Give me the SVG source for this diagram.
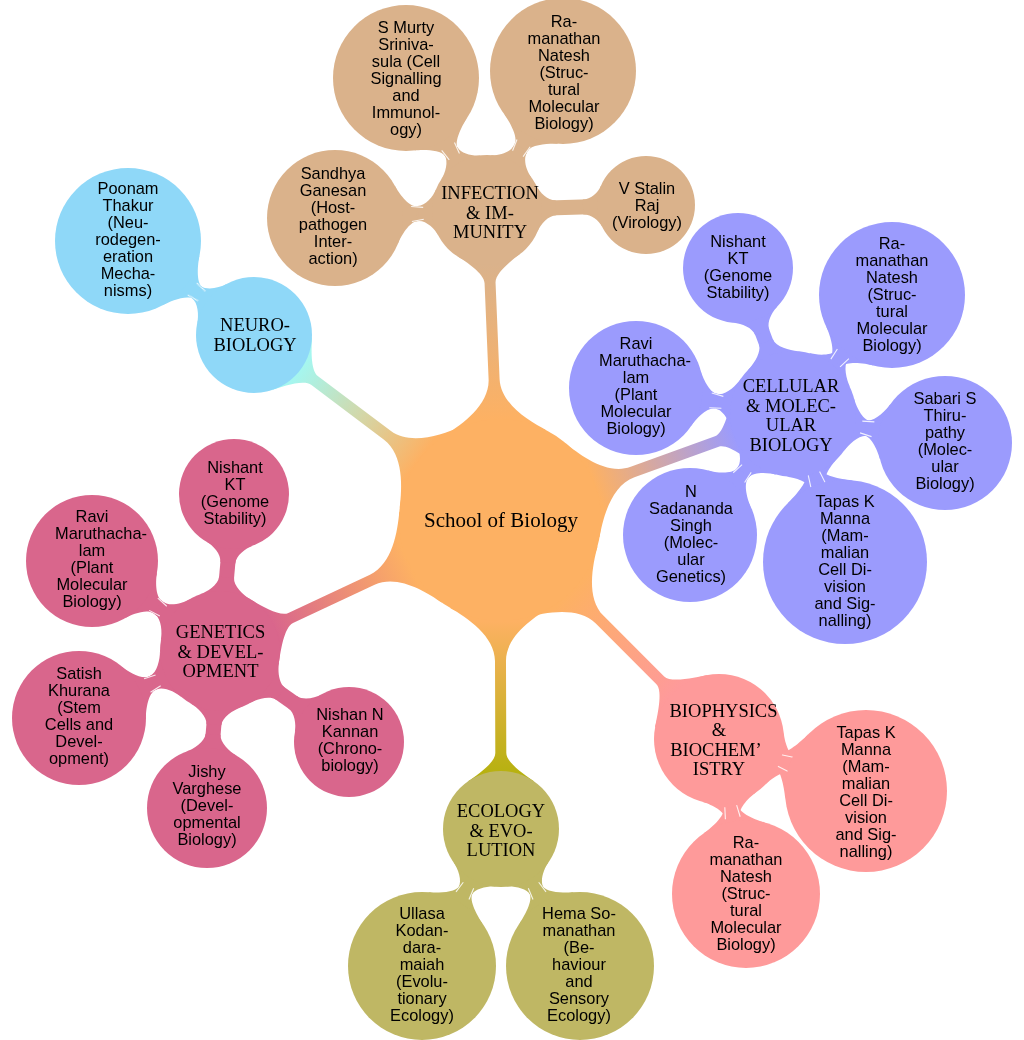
<svg xmlns="http://www.w3.org/2000/svg" width="1024" height="1040" viewBox="0 0 1024 1040">
<style>
.t0{font-family:"Liberation Serif","Times New Roman",serif;font-size:21px;text-anchor:middle;fill:#000}
.t1{font-family:"Liberation Serif","Times New Roman",serif;font-size:18.5px;text-anchor:middle;fill:#000}
.t2{font-family:"Liberation Sans",Arial,sans-serif;font-size:16.4px;text-anchor:middle;fill:#000}
.ctr{fill:#fdb163}.inf{fill:#dab28b}.neu{fill:#8fd8f8}.cel{fill:#9b9bfd}.bio{fill:#fe9a9a}.eco{fill:#bfb764}.gen{fill:#d9668c}
.b{stroke-width:15;fill:none}
.binf{stroke:#dab28b}.bneu{stroke:#8fd8f8}.bcel{stroke:#9b9bfd}.bbio{stroke:#fe9a9a}.beco{stroke:#bfb764}.bgen{stroke:#d9668c}
.sl{stroke:#fff;stroke-width:1.1;opacity:.85}
</style>
<defs>
<linearGradient id="gInf" gradientUnits="userSpaceOnUse" x1="101" y1="0" x2="255" y2="0"><stop offset="0" stop-color="#fdb163"/><stop offset="1" stop-color="#dab28b"/></linearGradient>
<linearGradient id="gNeu" gradientUnits="userSpaceOnUse" x1="101" y1="0" x2="250" y2="0"><stop offset="0" stop-color="#fdb163"/><stop offset="0.5" stop-color="#d2d8aa"/><stop offset="1" stop-color="#a5f6ef"/></linearGradient>
<linearGradient id="gCel" gradientUnits="userSpaceOnUse" x1="101" y1="0" x2="250" y2="0"><stop offset="0" stop-color="#fdb163"/><stop offset="1" stop-color="#9b9bfd"/></linearGradient>
<linearGradient id="gBio" gradientUnits="userSpaceOnUse" x1="101" y1="0" x2="245" y2="0"><stop offset="0" stop-color="#fdb163"/><stop offset="1" stop-color="#fe9a9a"/></linearGradient>
<linearGradient id="gEco" gradientUnits="userSpaceOnUse" x1="101" y1="0" x2="255" y2="0"><stop offset="0" stop-color="#fdb163"/><stop offset="1" stop-color="#b6b10f"/></linearGradient>
<linearGradient id="gGen" gradientUnits="userSpaceOnUse" x1="101" y1="0" x2="250" y2="0"><stop offset="0" stop-color="#fdb163"/><stop offset="1" stop-color="#d9668c"/></linearGradient>
<path id="f49" d="M44.4,-20.7 C47.8,-13.5 55,-7.5 63,-7.5 L63,7.5 C55,7.5 47.8,13.5 44.4,20.7Z"/>
<path id="f55" d="M49.8,-23.3 C53.2,-16.1 61,-7.5 69,-7.5 L69,7.5 C61,7.5 53.2,16.1 49.8,23.3Z"/>
<path id="f58" d="M52.5,-24.5 C55.9,-17.3 64,-7.5 72,-7.5 L72,7.5 C64,7.5 55.9,17.3 52.5,24.5Z"/>
<path id="f60" d="M54.4,-25.4 C57.8,-18.2 66,-7.5 74,-7.5 L74,7.5 C66,7.5 57.8,18.2 54.4,25.4Z"/>
<path id="f63" d="M57.1,-26.6 C60.5,-19.4 69,-7.5 77,-7.5 L77,7.5 C69,7.5 60.5,19.4 57.1,26.6Z"/>
<path id="f65" d="M58.9,-27.5 C62.3,-20.3 71,-7.5 79,-7.5 L79,7.5 C71,7.5 62.3,20.3 58.9,27.5Z"/>
<path id="f66" d="M59.8,-27.9 C63.2,-20.7 72,-7.5 80,-7.5 L80,7.5 C72,7.5 63.2,20.7 59.8,27.9Z"/>
<path id="f67" d="M60.7,-28.3 C64.1,-21.1 73,-7.5 81,-7.5 L81,7.5 C73,7.5 64.1,21.1 60.7,28.3Z"/>
<path id="f68" d="M61.6,-28.8 C65,-21.6 74,-7.5 82,-7.5 L82,7.5 C74,7.5 65,21.6 61.6,28.8Z"/>
<path id="f73" d="M66.1,-30.9 C69.5,-23.7 79,-7.5 87,-7.5 L87,7.5 C79,7.5 69.5,23.7 66.1,30.9Z"/>
<path id="f74" d="M67,-31.3 C70.4,-24.1 80,-7.5 88,-7.5 L88,7.5 C80,7.5 70.4,24.1 67,31.3Z"/>
<path id="f81" d="M73.4,-34.3 C76.8,-27.1 87,-7.5 95,-7.5 L95,7.5 C87,7.5 76.8,27.1 73.4,34.3Z"/>
<path id="f82" d="M74.3,-34.7 C77.7,-27.5 88,-7.5 96,-7.5 L96,7.5 C88,7.5 77.7,27.5 74.3,34.7Z"/>
</defs>
<rect width="1024" height="1040" fill="#fff"/>
<g id="connectors">
<path fill="url(#gInf)" transform="translate(500,520) rotate(-92.4)" d="M87.5,-50.5 C97.5,-33.2 116,-5.5 141,-5.5 L237.3,-5.5 C247.3,-5.5 259.6,-23.4 265.3,-31.6 L265.3,31.6 C259.6,23.4 247.3,5.5 237.3,5.5 L141,5.5 C116,5.5 97.5,33.2 87.5,50.5Z"/>
<path fill="url(#gNeu)" transform="translate(500,520) rotate(-143.05)" d="M87.5,-50.5 C97.5,-33.2 116,-5.5 141,-5.5 L231.8,-5.5 C241.8,-5.5 254.6,-25.1 260.3,-33.3 L260.3,33.3 C254.6,25.1 241.8,5.5 231.8,5.5 L141,5.5 C116,5.5 97.5,33.2 87.5,50.5Z"/>
<path fill="url(#gCel)" transform="translate(500,520) rotate(-19.89)" d="M87.5,-50.5 C97.5,-33.2 116,-5.5 141,-5.5 L230.6,-5.5 C240.6,-5.5 254.3,-28 260,-36.2 L260,36.2 C254.3,28 240.6,5.5 230.6,5.5 L141,5.5 C116,5.5 97.5,33.2 87.5,50.5Z"/>
<path fill="url(#gBio)" transform="translate(500,520) rotate(45)" d="M87.5,-50.5 C97.5,-33.2 116,-5.5 141,-5.5 L226.7,-5.5 C236.7,-5.5 250.8,-29.1 256.5,-37.3 L256.5,37.3 C250.8,29.1 236.7,5.5 226.7,5.5 L141,5.5 C116,5.5 97.5,33.2 87.5,50.5Z"/>
<path fill="url(#gEco)" transform="translate(500,520) rotate(89.8)" d="M87.5,-50.5 C97.5,-33.2 116,-5.5 141,-5.5 L233,-5.5 C243,-5.5 255.8,-25.1 261.5,-33.3 L261.5,33.3 C255.8,25.1 243,5.5 233,5.5 L141,5.5 C116,5.5 97.5,33.2 87.5,50.5Z"/>
<path fill="url(#gGen)" transform="translate(500,520) rotate(154.93)" d="M87.5,-50.5 C97.5,-33.2 116,-5.5 141,-5.5 L231.1,-5.5 C241.1,-5.5 254.3,-26.2 260,-34.4 L260,34.4 C254.3,26.2 241.1,5.5 231.1,5.5 L141,5.5 C116,5.5 97.5,33.2 87.5,50.5Z"/>
<line class="b binf" x1="487" y1="210" x2="335" y2="218"/>
<use href="#f55" class="inf" transform="translate(487,210) rotate(177)"/>
<use href="#f68" class="inf" transform="translate(335,218) rotate(-3)"/>
<line class="b binf" x1="487" y1="210" x2="406" y2="78"/>
<use href="#f55" class="inf" transform="translate(487,210) rotate(-121.5)"/>
<use href="#f73" class="inf" transform="translate(406,78) rotate(58.5)"/>
<line class="b binf" x1="487" y1="210" x2="563" y2="71"/>
<use href="#f55" class="inf" transform="translate(487,210) rotate(-61.3)"/>
<use href="#f73" class="inf" transform="translate(563,71) rotate(118.7)"/>
<line class="b binf" x1="487" y1="210" x2="646" y2="205"/>
<use href="#f55" class="inf" transform="translate(487,210) rotate(-1.8)"/>
<use href="#f49" class="inf" transform="translate(646,205) rotate(178.2)"/>
<line class="b bneu" x1="254" y1="335" x2="128" y2="241"/>
<use href="#f58" class="neu" transform="translate(254,335) rotate(-143.3)"/>
<use href="#f73" class="neu" transform="translate(128,241) rotate(36.7)"/>
<line class="b bcel" x1="793" y1="414" x2="738" y2="268"/>
<use href="#f63" class="cel" transform="translate(793,414) rotate(-110.6)"/>
<use href="#f55" class="cel" transform="translate(738,268) rotate(69.4)"/>
<line class="b bcel" x1="793" y1="414" x2="892" y2="295"/>
<use href="#f63" class="cel" transform="translate(793,414) rotate(-50.24)"/>
<use href="#f73" class="cel" transform="translate(892,295) rotate(129.76)"/>
<line class="b bcel" x1="793" y1="414" x2="945" y2="443"/>
<use href="#f63" class="cel" transform="translate(793,414) rotate(10.8)"/>
<use href="#f67" class="cel" transform="translate(945,443) rotate(190.8)"/>
<line class="b bcel" x1="793" y1="414" x2="845" y2="562"/>
<use href="#f63" class="cel" transform="translate(793,414) rotate(70.6)"/>
<use href="#f82" class="cel" transform="translate(845,562) rotate(250.6)"/>
<line class="b bcel" x1="793" y1="414" x2="690" y2="535"/>
<use href="#f63" class="cel" transform="translate(793,414) rotate(130.4)"/>
<use href="#f67" class="cel" transform="translate(690,535) rotate(310.4)"/>
<line class="b bcel" x1="793" y1="414" x2="636" y2="388"/>
<use href="#f63" class="cel" transform="translate(793,414) rotate(-170.6)"/>
<use href="#f67" class="cel" transform="translate(636,388) rotate(9.4)"/>
<line class="b bbio" x1="719" y1="739" x2="866" y2="791"/>
<use href="#f65" class="bio" transform="translate(719,739) rotate(19.48)"/>
<use href="#f81" class="bio" transform="translate(866,791) rotate(199.48)"/>
<line class="b bbio" x1="719" y1="739" x2="746" y2="894"/>
<use href="#f65" class="bio" transform="translate(719,739) rotate(80.1)"/>
<use href="#f74" class="bio" transform="translate(746,894) rotate(260.1)"/>
<line class="b beco" x1="501" y1="829" x2="422" y2="966"/>
<use href="#f58" class="eco" transform="translate(501,829) rotate(120)"/>
<use href="#f74" class="eco" transform="translate(422,966) rotate(300)"/>
<line class="b beco" x1="501" y1="829" x2="580" y2="966"/>
<use href="#f58" class="eco" transform="translate(501,829) rotate(60)"/>
<use href="#f74" class="eco" transform="translate(580,966) rotate(240)"/>
<line class="b bgen" x1="220" y1="651" x2="234" y2="494"/>
<use href="#f60" class="gen" transform="translate(220,651) rotate(-84.9)"/>
<use href="#f55" class="gen" transform="translate(234,494) rotate(95.1)"/>
<line class="b bgen" x1="220" y1="651" x2="92" y2="561"/>
<use href="#f60" class="gen" transform="translate(220,651) rotate(-144.9)"/>
<use href="#f66" class="gen" transform="translate(92,561) rotate(35.1)"/>
<line class="b bgen" x1="220" y1="651" x2="79" y2="718"/>
<use href="#f60" class="gen" transform="translate(220,651) rotate(154.6)"/>
<use href="#f67" class="gen" transform="translate(79,718) rotate(334.6)"/>
<line class="b bgen" x1="220" y1="651" x2="207" y2="808"/>
<use href="#f60" class="gen" transform="translate(220,651) rotate(94.7)"/>
<use href="#f60" class="gen" transform="translate(207,808) rotate(274.7)"/>
<line class="b bgen" x1="220" y1="651" x2="349" y2="742"/>
<use href="#f60" class="gen" transform="translate(220,651) rotate(35.2)"/>
<use href="#f55" class="gen" transform="translate(349,742) rotate(215.2)"/>
<g class="sl">
<g transform="translate(487,210) rotate(177)"><line x1="63.6" y1="-6" x2="75.6" y2="-7.5"/><line x1="63.6" y1="6" x2="75.6" y2="7.5"/></g>
<g transform="translate(487,210) rotate(-121.5)"><line x1="62.5" y1="-6" x2="74.5" y2="-7.5"/><line x1="62.5" y1="6" x2="74.5" y2="7.5"/></g>
<g transform="translate(487,210) rotate(-61.3)"><line x1="64.2" y1="-6" x2="76.2" y2="-7.5"/><line x1="64.2" y1="6" x2="76.2" y2="7.5"/></g>
<g transform="translate(254,335) rotate(-143.3)"><line x1="65.1" y1="-6" x2="77.1" y2="-7.5"/><line x1="65.1" y1="6" x2="77.1" y2="7.5"/></g>
<g transform="translate(793,414) rotate(-50.24)"><line x1="66.4" y1="-6" x2="78.4" y2="-7.5"/><line x1="66.4" y1="6" x2="78.4" y2="7.5"/></g>
<g transform="translate(793,414) rotate(10.8)"><line x1="69.4" y1="-6" x2="81.4" y2="-7.5"/><line x1="69.4" y1="6" x2="81.4" y2="7.5"/></g>
<g transform="translate(793,414) rotate(70.6)"><line x1="63" y1="-6" x2="75" y2="-7.5"/><line x1="63" y1="6" x2="75" y2="7.5"/></g>
<g transform="translate(793,414) rotate(130.4)"><line x1="71.5" y1="-6" x2="83.5" y2="-7.5"/><line x1="71.5" y1="6" x2="83.5" y2="7.5"/></g>
<g transform="translate(793,414) rotate(-170.6)"><line x1="71.6" y1="-6" x2="83.6" y2="-7.5"/><line x1="71.6" y1="6" x2="83.6" y2="7.5"/></g>
<g transform="translate(719,739) rotate(19.48)"><line x1="64" y1="-6" x2="76" y2="-7.5"/><line x1="64" y1="6" x2="76" y2="7.5"/></g>
<g transform="translate(719,739) rotate(80.1)"><line x1="68.2" y1="-6" x2="80.2" y2="-7.5"/><line x1="68.2" y1="6" x2="80.2" y2="7.5"/></g>
<g transform="translate(501,829) rotate(120)"><line x1="65" y1="-6" x2="77" y2="-7.5"/><line x1="65" y1="6" x2="77" y2="7.5"/></g>
<g transform="translate(501,829) rotate(60)"><line x1="65" y1="-6" x2="77" y2="-7.5"/><line x1="65" y1="6" x2="77" y2="7.5"/></g>
<g transform="translate(220,651) rotate(-144.9)"><line x1="69.3" y1="-6" x2="81.3" y2="-7.5"/><line x1="69.3" y1="6" x2="81.3" y2="7.5"/></g>
<g transform="translate(220,651) rotate(154.6)"><line x1="68.5" y1="-6" x2="80.5" y2="-7.5"/><line x1="68.5" y1="6" x2="80.5" y2="7.5"/></g>
</g>
</g>

<g id="n-school"><circle cx="500" cy="520" r="101" class="ctr"/><text class="t0" x="501" y="527">School of Biology</text></g>

<g id="n-infection"><circle cx="487" cy="210" r="55" class="inf"/><text class="t1" x="490" y="199.1"><tspan x="490">INFECTION</tspan><tspan x="490" dy="19.5">&amp; IM-</tspan><tspan x="490" dy="19.5">MUNITY</tspan></text></g>
<g id="n-inf-sandhya"><circle cx="335" cy="218" r="68" class="inf"/><text class="t2" x="333" y="178.8"><tspan x="333">Sandhya</tspan><tspan x="333" dy="17">Ganesan</tspan><tspan x="333" dy="17">(Host-</tspan><tspan x="333" dy="17">pathogen</tspan><tspan x="333" dy="17">Inter-</tspan><tspan x="333" dy="17">action)</tspan></text></g>
<g id="n-inf-murty"><circle cx="406" cy="78" r="73" class="inf"/><text class="t2" x="406" y="32.8"><tspan x="406">S Murty</tspan><tspan x="406" dy="17">Sriniva-</tspan><tspan x="406" dy="17">sula (Cell</tspan><tspan x="406" dy="17">Signalling</tspan><tspan x="406" dy="17">and</tspan><tspan x="406" dy="17">Immunol-</tspan><tspan x="406" dy="17">ogy)</tspan></text></g>
<g id="n-inf-natesh"><circle cx="563" cy="71" r="73" class="inf"/><text class="t2" x="564" y="27"><tspan x="564">Ra-</tspan><tspan x="564" dy="17">manathan</tspan><tspan x="564" dy="17">Natesh</tspan><tspan x="564" dy="17">(Struc-</tspan><tspan x="564" dy="17">tural</tspan><tspan x="564" dy="17">Molecular</tspan><tspan x="564" dy="17">Biology)</tspan></text></g>
<g id="n-inf-stalin"><circle cx="646" cy="205" r="49" class="inf"/><text class="t2" x="647" y="194.3"><tspan x="647">V Stalin</tspan><tspan x="647" dy="17">Raj</tspan><tspan x="647" dy="17">(Virology)</tspan></text></g>

<g id="n-neuro"><circle cx="254" cy="335" r="58" class="neu"/><text class="t1" x="255" y="331.4"><tspan x="255">NEURO-</tspan><tspan x="255" dy="19.5">BIOLOGY</tspan></text></g>
<g id="n-neu-poonam"><circle cx="128" cy="241" r="73" class="neu"/><text class="t2" x="128" y="193.7"><tspan x="128">Poonam</tspan><tspan x="128" dy="17">Thakur</tspan><tspan x="128" dy="17">(Neu-</tspan><tspan x="128" dy="17">rodegen-</tspan><tspan x="128" dy="17">eration</tspan><tspan x="128" dy="17">Mecha-</tspan><tspan x="128" dy="17">nisms)</tspan></text></g>

<g id="n-cellular"><circle cx="793" cy="414" r="63" class="cel"/><text class="t1" x="791" y="392.4"><tspan x="791">CELLULAR</tspan><tspan x="791" dy="19.5">&amp; MOLEC-</tspan><tspan x="791" dy="19.5">ULAR</tspan><tspan x="791" dy="19.5">BIOLOGY</tspan></text></g>
<g id="n-cel-nishant"><circle cx="738" cy="268" r="55" class="cel"/><text class="t2" x="738" y="246.7"><tspan x="738">Nishant</tspan><tspan x="738" dy="17">KT</tspan><tspan x="738" dy="17">(Genome</tspan><tspan x="738" dy="17">Stability)</tspan></text></g>
<g id="n-cel-natesh"><circle cx="892" cy="295" r="73" class="cel"/><text class="t2" x="892" y="248.7"><tspan x="892">Ra-</tspan><tspan x="892" dy="17">manathan</tspan><tspan x="892" dy="17">Natesh</tspan><tspan x="892" dy="17">(Struc-</tspan><tspan x="892" dy="17">tural</tspan><tspan x="892" dy="17">Molecular</tspan><tspan x="892" dy="17">Biology)</tspan></text></g>
<g id="n-cel-sabari"><circle cx="945" cy="443" r="67" class="cel"/><text class="t2" x="945" y="403.8"><tspan x="945">Sabari S</tspan><tspan x="945" dy="17">Thiru-</tspan><tspan x="945" dy="17">pathy</tspan><tspan x="945" dy="17">(Molec-</tspan><tspan x="945" dy="17">ular</tspan><tspan x="945" dy="17">Biology)</tspan></text></g>
<g id="n-cel-tapas"><circle cx="845" cy="562" r="82" class="cel"/><text class="t2" x="845" y="506.8"><tspan x="845">Tapas K</tspan><tspan x="845" dy="17">Manna</tspan><tspan x="845" dy="17">(Mam-</tspan><tspan x="845" dy="17">malian</tspan><tspan x="845" dy="17">Cell Di-</tspan><tspan x="845" dy="17">vision</tspan><tspan x="845" dy="17">and Sig-</tspan><tspan x="845" dy="17">nalling)</tspan></text></g>
<g id="n-cel-sadananda"><circle cx="690" cy="535" r="67" class="cel"/><text class="t2" x="691" y="497.2"><tspan x="691">N</tspan><tspan x="691" dy="17">Sadananda</tspan><tspan x="691" dy="17">Singh</tspan><tspan x="691" dy="17">(Molec-</tspan><tspan x="691" dy="17">ular</tspan><tspan x="691" dy="17">Genetics)</tspan></text></g>
<g id="n-cel-ravi"><circle cx="636" cy="388" r="67" class="cel"/><text class="t2" x="636" y="348.8"><tspan x="636">Ravi</tspan><tspan x="645" dy="17">Maruthacha-</tspan><tspan x="636" dy="17">lam</tspan><tspan x="636" dy="17">(Plant</tspan><tspan x="636" dy="17">Molecular</tspan><tspan x="636" dy="17">Biology)</tspan></text></g>

<g id="n-biophysics"><circle cx="719" cy="739" r="65" class="bio"/><text class="t1" x="719" y="716.9"><tspan x="723.5">BIOPHYSICS</tspan><tspan x="719" dy="19.5">&amp;</tspan><tspan x="716" dy="19.5">BIOCHEM’</tspan><tspan x="719" dy="19.5">ISTRY</tspan></text></g>
<g id="n-bio-tapas"><circle cx="866" cy="791" r="81" class="bio"/><text class="t2" x="866" y="738"><tspan x="866">Tapas K</tspan><tspan x="866" dy="17">Manna</tspan><tspan x="866" dy="17">(Mam-</tspan><tspan x="866" dy="17">malian</tspan><tspan x="866" dy="17">Cell Di-</tspan><tspan x="866" dy="17">vision</tspan><tspan x="866" dy="17">and Sig-</tspan><tspan x="866" dy="17">nalling)</tspan></text></g>
<g id="n-bio-natesh"><circle cx="746" cy="894" r="74" class="bio"/><text class="t2" x="746" y="847.5"><tspan x="746">Ra-</tspan><tspan x="746" dy="17">manathan</tspan><tspan x="746" dy="17">Natesh</tspan><tspan x="746" dy="17">(Struc-</tspan><tspan x="746" dy="17">tural</tspan><tspan x="746" dy="17">Molecular</tspan><tspan x="746" dy="17">Biology)</tspan></text></g>

<g id="n-ecology"><circle cx="501" cy="829" r="58" class="eco"/><text class="t1" x="501" y="817.1"><tspan x="501">ECOLOGY</tspan><tspan x="501" dy="19.5">&amp; EVO-</tspan><tspan x="501" dy="19.5">LUTION</tspan></text></g>
<g id="n-eco-ullasa"><circle cx="422" cy="966" r="74" class="eco"/><text class="t2" x="422" y="918.7"><tspan x="422">Ullasa</tspan><tspan x="422" dy="17">Kodan-</tspan><tspan x="422" dy="17">dara-</tspan><tspan x="422" dy="17">maiah</tspan><tspan x="422" dy="17">(Evolu-</tspan><tspan x="422" dy="17">tionary</tspan><tspan x="422" dy="17">Ecology)</tspan></text></g>
<g id="n-eco-hema"><circle cx="580" cy="966" r="74" class="eco"/><text class="t2" x="579" y="918.7"><tspan x="579">Hema So-</tspan><tspan x="579" dy="17">manathan</tspan><tspan x="579" dy="17">(Be-</tspan><tspan x="579" dy="17">haviour</tspan><tspan x="579" dy="17">and</tspan><tspan x="579" dy="17">Sensory</tspan><tspan x="579" dy="17">Ecology)</tspan></text></g>

<g id="n-genetics"><circle cx="220" cy="651" r="60" class="gen"/><text class="t1" x="220.5" y="638.1"><tspan x="220.5">GENETICS</tspan><tspan x="220.5" dy="19.5">&amp; DEVEL-</tspan><tspan x="220.5" dy="19.5">OPMENT</tspan></text></g>
<g id="n-gen-nishant"><circle cx="234" cy="494" r="55" class="gen"/><text class="t2" x="235" y="473.3"><tspan x="235">Nishant</tspan><tspan x="235" dy="17">KT</tspan><tspan x="235" dy="17">(Genome</tspan><tspan x="235" dy="17">Stability)</tspan></text></g>
<g id="n-gen-ravi"><circle cx="92" cy="561" r="66" class="gen"/><text class="t2" x="92" y="522.2"><tspan x="92">Ravi</tspan><tspan x="101" dy="17">Maruthacha-</tspan><tspan x="92" dy="17">lam</tspan><tspan x="92" dy="17">(Plant</tspan><tspan x="92" dy="17">Molecular</tspan><tspan x="92" dy="17">Biology)</tspan></text></g>
<g id="n-gen-satish"><circle cx="79" cy="718" r="67" class="gen"/><text class="t2" x="79" y="678.8"><tspan x="79">Satish</tspan><tspan x="79" dy="17">Khurana</tspan><tspan x="79" dy="17">(Stem</tspan><tspan x="79" dy="17">Cells and</tspan><tspan x="79" dy="17">Devel-</tspan><tspan x="79" dy="17">opment)</tspan></text></g>
<g id="n-gen-jishy"><circle cx="207" cy="808" r="60" class="gen"/><text class="t2" x="207" y="777.3"><tspan x="207">Jishy</tspan><tspan x="207" dy="17">Varghese</tspan><tspan x="207" dy="17">(Devel-</tspan><tspan x="207" dy="17">opmental</tspan><tspan x="207" dy="17">Biology)</tspan></text></g>
<g id="n-gen-nishan"><circle cx="349" cy="742" r="55" class="gen"/><text class="t2" x="350" y="720"><tspan x="350">Nishan N</tspan><tspan x="350" dy="17">Kannan</tspan><tspan x="350" dy="17">(Chrono-</tspan><tspan x="350" dy="17">biology)</tspan></text></g>
</svg>
